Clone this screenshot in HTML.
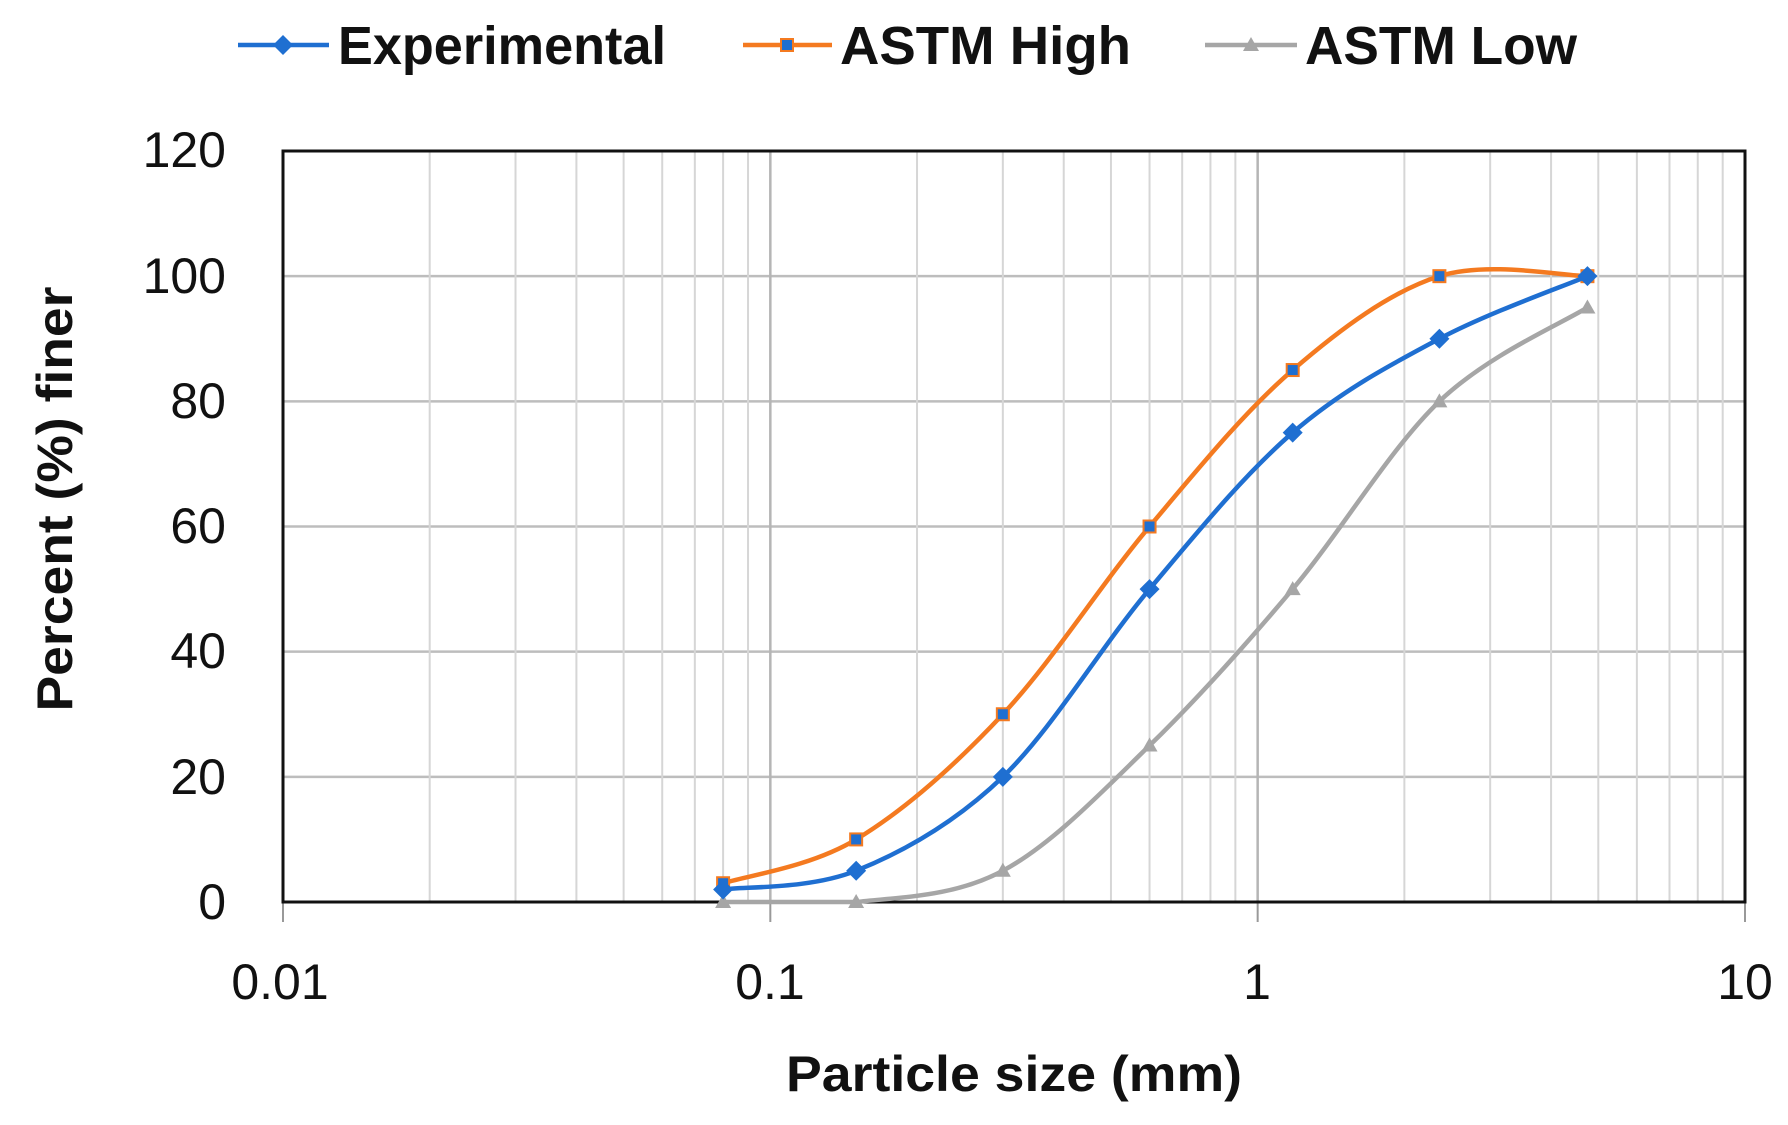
<!DOCTYPE html>
<html><head><meta charset="utf-8"><style>
html,body{margin:0;padding:0;background:#fff;}
svg{display:block;}
text{font-family:"Liberation Sans",sans-serif;fill:#111;}
</style></head><body>
<svg id="s" width="1788" height="1125" viewBox="0 0 1788 1125" xmlns="http://www.w3.org/2000/svg">
<g id="grid"></g>
<rect x="283" y="151" width="1462" height="751" fill="none" stroke="#111" stroke-width="3"/>
<g font-size="50" text-anchor="end">
<text x="226" y="919">0</text>
<text x="226" y="794">20</text>
<text x="226" y="668">40</text>
<text x="226" y="543">60</text>
<text x="226" y="418">80</text>
<text x="226" y="293">100</text>
<text x="226" y="167">120</text>
</g>
<g font-size="50" text-anchor="middle">
<text x="280" y="999">0.01</text>
<text x="770" y="999">0.1</text>
<text x="1257" y="999">1</text>
<text x="1745" y="999">10</text>
</g>
<text x="1014" y="1091" font-size="50" font-weight="bold" text-anchor="middle" textLength="456" lengthAdjust="spacingAndGlyphs">Particle size (mm)</text>
<text transform="translate(72,499) rotate(-90)" font-size="50" font-weight="bold" text-anchor="middle" textLength="425" lengthAdjust="spacingAndGlyphs">Percent (%) finer</text>
<g id="series"></g>
<g font-size="54" font-weight="bold">
<line x1="238" y1="45" x2="329" y2="45" stroke="#1f6fd1" stroke-width="4.5"/>
<polygon points="283,35 293,45 283,55 273,45" fill="#1f6fd1"/>
<text x="338" y="64" textLength="328" lengthAdjust="spacingAndGlyphs">Experimental</text>
<line x1="743" y1="45" x2="832" y2="45" stroke="#f47a20" stroke-width="4.5"/>
<rect x="781" y="39" width="12" height="12" fill="#1f6fd1" stroke="#f47a20" stroke-width="2"/>
<text x="840" y="64" textLength="291" lengthAdjust="spacingAndGlyphs">ASTM High</text>
<line x1="1205" y1="45" x2="1297" y2="45" stroke="#a6a6a6" stroke-width="4.5"/>
<polygon points="1251,37 1259,51 1243,51" fill="#a6a6a6"/>
<text x="1305" y="64" textLength="272" lengthAdjust="spacingAndGlyphs">ASTM Low</text>
</g>
</svg>
<script>
var NS="http://www.w3.org/2000/svg";
function X(v){return 283+(Math.log10(v)+2)*487.33;}
function Y(p){return 902-p*751/120;}
function el(t,a,parent){var e=document.createElementNS(NS,t);for(var k in a)e.setAttribute(k,a[k]);parent.appendChild(e);return e;}
var g=document.getElementById("grid");
for(var p=20;p<=100;p+=20){el("line",{x1:283,x2:1745,y1:Y(p),y2:Y(p),stroke:"#bdbdbd","stroke-width":2.5},g);}
for(var d=0;d<3;d++){for(var m=2;m<=9;m++){var x=X(Math.pow(10,d-2)*m);el("line",{x1:x,x2:x,y1:151,y2:902,stroke:"#d6d6d6","stroke-width":2},g);}}
[0.1,1].forEach(function(v){el("line",{x1:X(v),x2:X(v),y1:151,y2:902,stroke:"#b5b5b5","stroke-width":2.5},g);});
[0.01,0.1,1,10].forEach(function(v){el("line",{x1:X(v),x2:X(v),y1:902,y2:922,stroke:"#999","stroke-width":2},g);});
var xs=[0.08,0.15,0.3,0.6,1.18,2.36,4.75];
var S=[
 {c:"#a6a6a6",d:[0,0,5,25,50,80,95],m:"tri"},
 {c:"#f47a20",d:[3,10,30,60,85,100,100],m:"sq"},
 {c:"#1f6fd1",d:[2,5,20,50,75,90,100],m:"dia"}];
var sg=document.getElementById("series");
S.forEach(function(s){
 var P=xs.map(function(v,i){return [X(v),Y(s.d[i])];});
 var dd="M"+P[0][0]+","+P[0][1];
 for(var i=0;i<P.length-1;i++){
  var p0=P[Math.max(i-1,0)],p1=P[i],p2=P[i+1],p3=P[Math.min(i+2,P.length-1)];
  var c1=[p1[0]+(p2[0]-p0[0])/6,Math.min(902,p1[1]+(p2[1]-p0[1])/6)];
  var c2=[p2[0]-(p3[0]-p1[0])/6,Math.min(902,p2[1]-(p3[1]-p1[1])/6)];
  dd+=" C"+c1+" "+c2+" "+p2;
 }
 el("path",{d:dd,fill:"none",stroke:s.c,"stroke-width":4.5},sg);
 P.forEach(function(q){
  var x=q[0],y=q[1];
  if(s.m=="dia")el("polygon",{points:(x)+","+(y-10)+" "+(x+10)+","+y+" "+x+","+(y+10)+" "+(x-10)+","+y,fill:s.c},sg);
  else if(s.m=="sq")el("rect",{x:x-6,y:y-6,width:12,height:12,fill:"#1f6fd1",stroke:s.c,"stroke-width":2},sg);
  else el("polygon",{points:x+","+(y-8)+" "+(x+8)+","+(y+6)+" "+(x-8)+","+(y+6),fill:s.c},sg);
 });
});
</script>
</body></html>
